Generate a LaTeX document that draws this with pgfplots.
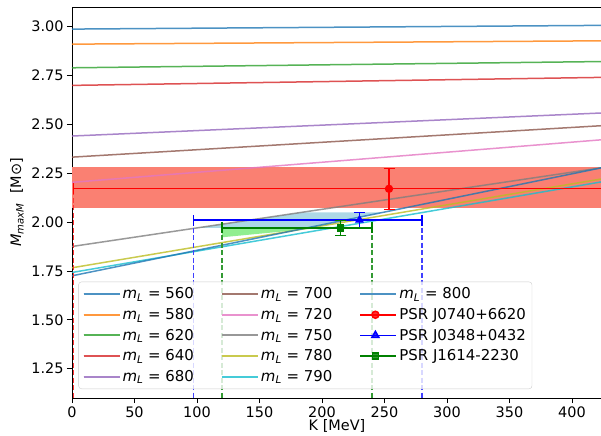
\documentclass[border=0pt]{standalone}
\usepackage{pgfplots}
\pgfplotsset{compat=1.18}
\usepackage{fontspec}
\setmainfont{DejaVu Sans}

\definecolor{c0}{HTML}{1F77B4}
\definecolor{c1}{HTML}{FF7F0E}
\definecolor{c2}{HTML}{2CA02C}
\definecolor{c3}{HTML}{D62728}
\definecolor{c4}{HTML}{9467BD}
\definecolor{c5}{HTML}{8C564B}
\definecolor{c6}{HTML}{E377C2}
\definecolor{c7}{HTML}{7F7F7F}
\definecolor{c8}{HTML}{BCBD22}
\definecolor{c9}{HTML}{17BECF}
\definecolor{salmon}{RGB}{250,128,114}
\definecolor{lightblue}{RGB}{173,216,230}
\definecolor{lightgreen}{RGB}{144,238,144}
\definecolor{mplgreen}{RGB}{0,128,0}

\newcommand{\mL}[1]{\textit{m}\textsubscript{\textit{L}} = #1}

\begin{document}
\begin{tikzpicture}[font=\fontsize{14.5}{17}\selectfont]
\begin{axis}[
    scale only axis,
    width=530bp, height=391bp,
    xmin=0, xmax=424, ymin=1.1, ymax=3.1,
    xtick={0,50,100,150,200,250,300,350,400},
    ytick={1.25,1.5,1.75,2.0,2.25,2.5,2.75,3.0},
    tick align=outside, xtick pos=bottom, ytick pos=left,
    major tick length=5bp,
    tick style={black, line width=0.8bp},
    axis line style={line width=0.8bp},
    /pgf/number format/assume math mode=true,
    scaled ticks=false,
    yticklabel style={/pgf/number format/.cd, fixed, fixed zerofill, precision=2},
    xticklabel style={/pgf/number format/fixed},
    xlabel={K [MeV]},
    ylabel={{\itshape M}\textsubscript{\itshape maxM}\ \ [M⊙]},
    every axis x label/.style={at={(axis description cs:0.5,0)}, yshift=-32.7bp, anchor=base},
    every axis y label/.style={at={(axis description cs:0,0.5)}, xshift=-55bp, rotate=90, anchor=center},
    legend columns=3,
    legend cell align=left,
    legend style={at={(0.012,0.023)}, anchor=south west,
        draw=black!20, rounded corners=3bp, fill=white, fill opacity=0.8,
        text opacity=1, draw opacity=1, inner xsep=4bp, inner ysep=4bp,
        row sep=4bp,
        font=\fontsize{15}{17}\selectfont,
        nodes={inner sep=2bp},
        /tikz/every even column/.append style={column sep=25bp}},
    legend image code/.code={\path (0bp,0bp) -- (36bp,0bp);\draw[mark repeat=2,mark phase=2,#1] plot coordinates {(0bp,0bp) (15bp,0bp) (30bp,0bp)};},
    error bars/error mark=|,
]

% shaded constraints
\addplot[fill=salmon, draw=none, forget plot] coordinates {(0,2.07) (424,2.07) (424,2.28) (0,2.28)} -- cycle;
\addplot[fill=lightblue, draw=none, forget plot] coordinates {(100,1.97) (184,2.05) (248.6,2.05) (187.4,1.97)} -- cycle;
\addplot[fill=lightgreen, draw=none, forget plot] coordinates {(120,1.922) (120,1.97) (207,1.975)} -- cycle;

% maximum mass vs K for each m_L
\addplot[c0, line width=1.5bp, opacity=0.8, forget plot] coordinates {(0,2.987) (424,3.006)};
\addplot[c1, line width=1.5bp, opacity=0.8, forget plot] coordinates {(0,2.910) (424,2.927)};
\addplot[c2, line width=1.5bp, opacity=0.8, forget plot] coordinates {(0,2.789) (424,2.821)};
\addplot[c3, line width=1.5bp, opacity=0.8, forget plot] coordinates {(0,2.699) (424,2.740)};
\addplot[c4, line width=1.5bp, opacity=0.8, forget plot] coordinates {(0,2.440) (424,2.558)};
\addplot[c5, line width=1.5bp, opacity=0.8, forget plot] coordinates {(0,2.332) (424,2.493)};
\addplot[c6, line width=1.5bp, opacity=0.8, forget plot] coordinates {(0,2.203) (424,2.421)};
\addplot[c7, line width=1.5bp, opacity=0.8, forget plot] coordinates {(0,1.875) (424,2.278)};
\addplot[c8, line width=1.5bp, opacity=0.8, forget plot] coordinates {(0,1.766) (424,2.221)};
\addplot[c9, line width=1.5bp, opacity=0.8, forget plot] coordinates {(0,1.742) (424,2.206)};
\addplot[c0, line width=1.5bp, opacity=0.8, forget plot] coordinates {(0,1.725) (424,2.278)};

% dashed guides
\addplot[red!80!white, line width=1.2bp, dash pattern=on 5bp off 2.5bp, forget plot] coordinates {(1.4,2.2) (1.4,1.1)};
\addplot[blue!75!white, line width=1.2bp, dash pattern=on 5bp off 2.5bp, forget plot] coordinates {(97,2.01) (97,1.1)};
\addplot[blue!75!white, line width=1.2bp, dash pattern=on 5bp off 2.5bp, forget plot] coordinates {(280,2.01) (280,1.1)};
\addplot[mplgreen!80!white, line width=1.2bp, dash pattern=on 5bp off 2.5bp, forget plot] coordinates {(120,1.97) (120,1.1)};
\addplot[mplgreen!80!white, line width=1.2bp, dash pattern=on 5bp off 2.5bp, forget plot] coordinates {(240,1.97) (240,1.1)};

% pulsar measurements
\addplot[red, mark=*, mark size=3.5bp, line width=1.3bp, forget plot,
    error bars/.cd, x dir=both, x explicit, y dir=both, y explicit,
    error bar style={line width=1.3bp}, error mark options={mark size=5.5bp, line width=1.3bp}]
    coordinates {(253.6,2.17) +- (252.2,0.105)};
\addplot[blue, mark=triangle*, mark size=4bp, line width=1.3bp, forget plot,
    error bars/.cd, x dir=both, x explicit, y dir=both, y explicit,
    error bar style={line width=1.3bp}, error mark options={mark size=5.5bp, line width=1.3bp}]
    coordinates {(230,2.01) += (50,0.04) -= (133,0.04)};
\addplot[mplgreen, mark=square*, mark size=3bp, line width=1.3bp, forget plot,
    error bars/.cd, x dir=both, x explicit, y dir=both, y explicit,
    error bar style={line width=1.3bp}, error mark options={mark size=5.5bp, line width=1.3bp}]
    coordinates {(215,1.97) += (25,0.038) -= (95,0.038)};

% legend in row order (3 columns)
\addlegendimage{c0!80!white, line width=2bp}\addlegendentry{\mL{560}}
\addlegendimage{c5!80!white, line width=2bp}\addlegendentry{\mL{700}}
\addlegendimage{c0!80!white, line width=2bp}\addlegendentry{\mL{800}}
\addlegendimage{c1!80!white, line width=2bp}\addlegendentry{\mL{580}}
\addlegendimage{c6!80!white, line width=2bp}\addlegendentry{\mL{720}}
\addlegendimage{red, mark=*, mark size=3.5bp, line width=1.5bp}\addlegendentry{PSR J0740+6620}
\addlegendimage{c2!80!white, line width=2bp}\addlegendentry{\mL{620}}
\addlegendimage{c7!80!white, line width=2bp}\addlegendentry{\mL{750}}
\addlegendimage{blue, mark=triangle*, mark size=4bp, line width=1.5bp}\addlegendentry{PSR J0348+0432}
\addlegendimage{c3!80!white, line width=2bp}\addlegendentry{\mL{640}}
\addlegendimage{c8!80!white, line width=2bp}\addlegendentry{\mL{780}}
\addlegendimage{mplgreen, mark=square*, mark size=3bp, line width=1.5bp}\addlegendentry{PSR J1614-2230}
\addlegendimage{c4!80!white, line width=2bp}\addlegendentry{\mL{680}}
\addlegendimage{c9!80!white, line width=2bp}\addlegendentry{\mL{790}}
\end{axis}
\pgfresetboundingbox
\path ([xshift=-72bp,yshift=-38bp]current axis.south west) rectangle ([xshift=-1bp,yshift=7bp]current axis.north east);
\end{tikzpicture}
\end{document}
